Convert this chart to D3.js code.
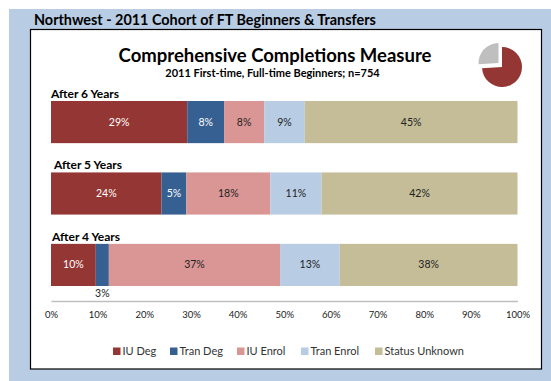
<!DOCTYPE html>
<html>
<head>
<meta charset="utf-8">
<script src="https://cdn.jsdelivr.net/npm/d3@7"></script>
<style>
  html, body { margin: 0; padding: 0; background: #fff; }
  svg { display: block; }
  text { font-family: Lato, "Open Sans", sans-serif; }
</style>
</head>
<body>
<div id="chart"></div>
<script>
'use strict';

var cohorts = [ 'After 6 Years', 'After 5 Years', 'After 4 Years' ];
var seriesNames = [ 'IU Deg', 'Tran Deg', 'IU Enrol', 'Tran Enrol', 'Status Unknown' ];
var iuDeg = [ 29.2, 23.7, 9.6 ];
var tranDeg = [ 7.9, 5.3, 2.8 ];
var iuEnrol = [ 8.6, 18.0, 36.7 ];
var tranEnrol = [ 8.7, 11.0, 12.8 ];
var statusUnknown = [ 45.6, 42.0, 38.1 ];
var barLabels = [
  [ '29%', '8%', '8%', '9%', '45%' ],
  [ '24%', '5%', '18%', '11%', '42%' ],
  [ '10%', '3%', '37%', '13%', '38%' ]
];
var tickValues = [ 0, 10, 20, 30, 40, 50, 60, 70, 80, 90, 100 ];
var pieValues = [ 74, 26 ];

var colors = [ '#943634', '#366092', '#d99694', '#b8cce4', '#c4bd97' ];
var labelColors = [ '#fff', '#fff', '#222', '#222', '#222' ];
var pieColors = [ '#943634', '#bfbfbf' ];

var width = 551,
    height = 381,
    margin = { left: 51, right: 517.5 };

var svg = d3.select( '#chart' )
  .append( 'svg' )
    .attr( 'width', width )
    .attr( 'height', height );

// blue backdrop, then the white panel with its black border
svg.append( 'rect' )
  .attr( 'x', 9 ).attr( 'y', 9 )
  .attr( 'width', width - 9 ).attr( 'height', height - 9 )
  .style( 'fill', '#b8cce4' );

svg.append( 'rect' )
  .attr( 'x', 30.5 ).attr( 'y', 29.5 )
  .attr( 'width', 511 ).attr( 'height', 339.5 )
  .style( 'fill', '#fff' )
  .style( 'stroke', '#000' )
  .style( 'stroke-width', 1.2 );

svg.append( 'text' )
  .attr( 'x', 34 ).attr( 'y', 25 )
  .style( 'font-size', '14.4px' )
  .style( 'font-weight', 700 )
  .text( 'Northwest - 2011 Cohort of FT Beginners & Transfers' );

svg.append( 'text' )
  .attr( 'x', 275 ).attr( 'y', 62 )
  .style( 'text-anchor', 'middle' )
  .style( 'font-size', '18.5px' )
  .style( 'font-weight', 700 )
  .text( 'Comprehensive Completions Measure' );

svg.append( 'text' )
  .attr( 'x', 272.5 ).attr( 'y', 77 )
  .style( 'text-anchor', 'middle' )
  .style( 'font-size', '11px' )
  .style( 'font-weight', 700 )
  .text( '2011 First-time, Full-time Beginners; n=754' );

// scales
var x = d3.scaleLinear()
  .domain( [ 0, 100 ] )
  .range( [ margin.left, margin.right ] );

var y = d3.scaleBand()
  .domain( cohorts )
  .range( [ 101, 286 ] )
  .paddingInner( 0.41 );

// stacked bars
var rows = cohorts.map( function( c, i ) {
  return {
    cohort: c,
    'IU Deg': iuDeg[i],
    'Tran Deg': tranDeg[i],
    'IU Enrol': iuEnrol[i],
    'Tran Enrol': tranEnrol[i],
    'Status Unknown': statusUnknown[i]
  };
} );

var stacked = d3.stack().keys( seriesNames )( rows );

var layers = svg.selectAll( 'g.layer' )
  .data( stacked )
  .enter()
  .append( 'g' )
    .attr( 'class', 'layer' );

layers.selectAll( 'rect' )
  .data( function( s ) { return s; } )
  .enter()
  .append( 'rect' )
    .attr( 'x', function( d ) { return x( d[0] ); } )
    .attr( 'y', function( d ) { return y( d.data.cohort ); } )
    .attr( 'width', function( d ) { return x( d[1] ) - x( d[0] ); } )
    .attr( 'height', y.bandwidth() )
    .style( 'fill', function() {
      return colors[ seriesNames.indexOf( d3.select( this.parentNode ).datum().key ) ];
    } );

// value labels, the small 3% one sits below its bar
stacked.forEach( function( s, si ) {
  s.forEach( function( d, ci ) {
    var below = barLabels[ci][si] === '3%';
    svg.append( 'text' )
      .attr( 'x', x( ( d[0] + d[1] ) / 2 ) )
      .attr( 'y', below ? y( cohorts[ci] ) + y.bandwidth() + 11
                        : y( cohorts[ci] ) + y.bandwidth() / 2 + 3.5 )
      .style( 'text-anchor', 'middle' )
      .style( 'font-size', '10.5px' )
      .style( 'fill', below ? '#222' : labelColors[si] )
      .text( barLabels[ci][si] );
  } );
} );

// cohort headings
var headingX = [ 51, 54, 52 ];
cohorts.forEach( function( c, i ) {
  svg.append( 'text' )
    .attr( 'x', headingX[i] )
    .attr( 'y', y( c ) - 3 )
    .style( 'font-size', '12px' )
    .style( 'font-weight', 700 )
    .text( c );
} );

// axis
var axis = svg.append( 'g' )
  .attr( 'transform', 'translate(0,301)' )
  .call( d3.axisBottom( x )
    .tickValues( tickValues )
    .tickSize( 0 )
    .tickPadding( 10 )
    .tickFormat( function( d ) { return d + '%'; } ) );

axis.select( '.domain' )
  .style( 'stroke', '#bfbfbf' )
  .style( 'stroke-width', 1.6 );

axis.selectAll( 'text' )
  .style( 'font-family', 'Lato, "Open Sans", sans-serif' )
  .style( 'font-size', '9.5px' )
  .style( 'fill', '#222' );

// legend
var legendX = [ 113, 170, 237, 301, 375 ];
var legend = svg.selectAll( 'g.legend' )
  .data( seriesNames )
  .enter()
  .append( 'g' )
    .attr( 'class', 'legend' )
    .attr( 'transform', function( d, i ) {
      return 'translate(' + legendX[i] + ',351)';
    } );

legend.append( 'rect' )
  .attr( 'x', 0 ).attr( 'y', -3.5 )
  .attr( 'width', 7.5 ).attr( 'height', 7.5 )
  .style( 'fill', function( d, i ) { return colors[i]; } );

legend.append( 'text' )
  .attr( 'x', 9.5 ).attr( 'y', 4 )
  .style( 'font-size', '11px' )
  .style( 'fill', '#333' )
  .text( function( d ) { return d; } );

// small pie, grey slice pulled out
var pie = d3.pie().sort( null ).startAngle( 0 ).endAngle( 2 * Math.PI );
var arc = d3.arc().innerRadius( 0 ).outerRadius( 20 );

var pieGroup = svg.append( 'g' )
  .attr( 'transform', 'translate(502,67)' );

pieGroup.selectAll( 'path' )
  .data( pie( pieValues ) )
  .enter()
  .append( 'path' )
    .attr( 'd', arc )
    .attr( 'transform', function( d, i ) {
      return i === 1 ? 'translate(-3.5,-4)' : null;
    } )
    .style( 'fill', function( d, i ) { return pieColors[i]; } );
</script>
</body>
</html>
